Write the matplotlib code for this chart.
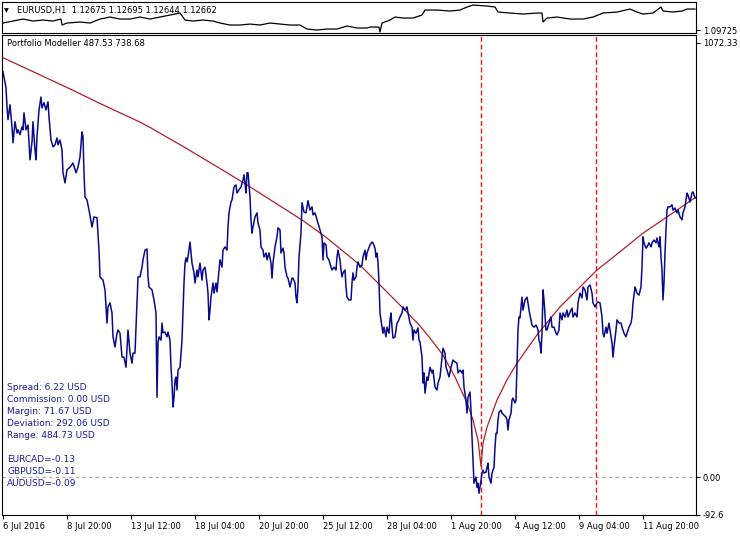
import matplotlib
matplotlib.use('Agg')

import matplotlib.pyplot as plt
import numpy             as np


save_name = 'out.png'
fig_w     = 740
fig_h     = 536
font_size = 6.5
num_size  = 6.0

navy     = '#0a0a8c'
curve_c  = '#b0202a'
event_c  = '#f01818'
zero_c   = '#a8a8a8'
text_c   = '#1a1aa0'

# H1 bars counted from 6 Jul 2016 00:00 (weekends skipped)
tick_bars   = [0, 64, 128, 192, 256, 320, 384, 448, 512, 576, 640]
tick_labels = ['6 Jul 2016', '8 Jul 20:00', '13 Jul 12:00', '18 Jul 04:00',
               '20 Jul 20:00', '25 Jul 12:00', '28 Jul 04:00', '1 Aug 20:00',
               '4 Aug 12:00', '9 Aug 04:00', '11 Aug 20:00']

# portfolio equity (USD)
equity_bars = [
    0, 2, 3, 4, 5, 7, 9, 10, 12, 14,
    15, 17, 19, 20, 21, 23, 25, 27, 29, 30,
    32, 33, 34, 36, 38, 39, 41, 43, 45, 46,
    48, 50, 52, 54, 55, 57, 59, 60, 62, 64,
    67, 70, 73, 75, 77, 79, 80, 81, 82, 84,
    86, 89, 91, 94, 96, 97, 100, 102, 104, 105,
    107, 109, 110, 112, 114, 115, 117, 119, 121, 123,
    125, 127, 129, 130, 132, 134, 135,
    137, 139, 140, 142, 144, 145, 146, 149, 151, 153,
    154, 155, 156, 158, 159, 160, 162, 164, 165, 167,
    168, 169, 170, 171, 172, 173, 174, 175, 177, 179,
    180, 181, 182, 183, 184, 185, 187, 188, 189, 191,
    192, 194, 195, 197, 199, 200, 202, 204, 205, 206,
    207, 208, 210, 211, 213, 214, 216, 217, 219, 220,
    222, 224, 225, 226, 228, 229, 231, 233, 234, 236,
    238, 240, 241, 242, 243, 244, 245, 247, 248, 249,
    250, 252, 254, 255, 257, 258, 260, 261, 263, 264,
    266, 268, 269, 270, 272, 274, 275,
    277, 278, 280, 281, 282, 284, 285, 287, 289, 290,
    292, 293, 294, 295, 296, 298, 299, 301, 303, 304,
    305, 307, 309, 310, 312, 314, 315, 317, 319, 320,
    321, 323, 324, 326, 328, 329, 331, 333, 334, 335,
    337, 338, 339, 340, 342, 343, 344, 346, 348, 349,
    350, 351, 353, 354, 355, 357, 359, 360, 362, 363,
    364, 365, 367, 369, 370, 372, 373, 374, 375, 376,
    377, 379, 380, 381, 383, 384, 386, 387, 388, 389,
    390, 392, 394, 395, 397, 399, 400, 402, 404, 405,
    407, 409, 410, 411, 413, 415, 416,
    417, 419, 420, 421, 422, 424, 425, 427, 429, 430,
    432, 434, 435, 437, 439, 440, 442, 443, 444, 446,
    448, 450, 452, 454, 455, 457, 459, 460, 461, 463,
    464, 465, 467, 468, 469, 470, 471, 473, 474, 475,
    476, 478, 479, 480, 481, 483, 484, 485, 486, 488,
    489, 490, 491, 492, 493, 494, 495, 496, 498, 499,
    501, 503, 504, 505, 506, 508, 509, 510, 512, 513,
    514, 515, 516, 517, 518, 519, 520, 522, 524, 525,
    526, 528, 529, 531, 533, 534, 535, 536, 537, 538,
    539, 540, 541, 543, 544, 546, 548, 549, 551, 553,
    554, 556,
    557, 559, 560, 562, 564, 565, 567, 569, 570, 572,
    574, 575, 577, 579, 580, 582, 584, 585, 587, 589,
    590, 592, 594, 595, 597, 599, 600, 601, 603, 604,
    606, 607, 609, 610, 611, 613, 614, 616, 618, 619,
    621, 623, 624, 626, 628, 629, 630, 632, 633, 634,
    636, 638, 639, 640, 641, 643, 644, 646, 648, 649,
    651, 653, 654, 656, 657, 658, 659, 660, 661, 662,
    663, 664, 665, 667, 669, 670, 672, 674, 675, 677,
    679, 680, 682, 684, 685, 687, 689, 690, 692, 693]

equity_usd = [
    1001, 974, 962, 915, 883, 920, 865, 826, 878, 850,
    858, 846, 865, 858, 900, 858, 870, 784, 828, 878,
    808, 784, 841, 907, 939, 912, 925, 907, 927, 890,
    833, 816, 821, 838, 821, 833, 808, 752, 727, 759,
    766, 776, 752, 766, 791, 853, 841, 752, 692, 685,
    660, 618, 643, 641, 561, 495, 487, 463, 381, 421,
    431, 406, 347, 322, 356, 364, 356, 297, 297, 272,
    364, 307, 282, 307, 307, 431, 495,
    495, 519, 537, 561, 564, 495, 470, 463, 438, 406,
    198, 332, 347, 339, 381, 357, 359, 347, 359, 339,
    272, 233, 174, 198, 240, 248, 216, 265, 272, 339,
    406, 480, 529, 542, 532, 544, 581, 554, 529, 505,
    480, 512, 495, 529, 487, 512, 519, 480, 455, 389,
    413, 445, 480, 455, 480, 458, 512, 537, 519, 561,
    569, 561, 618, 653, 680, 685, 717, 722, 702, 710,
    717, 734, 747, 727, 702, 752, 752, 692, 636, 603,
    618, 643, 653, 628, 611, 569, 561, 544, 554, 537,
    554, 529, 492, 529, 569, 594, 616,
    611, 554, 566, 554, 519, 495, 492, 470, 492, 492,
    480, 445, 431, 470, 544, 603, 678, 655, 653, 668,
    683, 660, 668, 648, 653, 636, 628, 611, 594, 537,
    579, 574, 544, 537, 519, 512, 519, 512, 544, 561,
    537, 512, 495, 505, 512, 470, 445, 438, 438, 480,
    505, 487, 495, 519, 532, 519, 524, 544, 561, 537,
    554, 561, 574, 581, 579, 566, 544, 554, 532, 480,
    406, 371, 356, 371, 347, 371, 356, 389, 406, 371,
    344, 347, 381, 384, 396, 406, 421, 413, 421, 406,
    381, 371, 339, 364, 356, 369, 339,
    334, 297, 233, 258, 208, 248, 240, 272, 258, 265,
    223, 216, 233, 248, 297, 319, 307, 272, 265, 248,
    272, 290, 285, 282, 258, 265, 258, 265, 223, 191,
    159, 198, 211, 166, 100, 43, -14, 1, -24, -14,
    -39, -7, 11, 18, 11, 13, 25, 35, 1, -14,
    11, 18, 25, 75, 109, 109, 142, 161, 166, 159,
    154, 149, 142, 117, 142, 159, 191, 196, 184, 191,
    282, 364, 396, 394, 421, 445, 413, 438, 445, 431,
    413, 389, 376, 371, 376, 371, 364, 339, 332, 307,
    356, 463, 438, 364, 364, 381, 396, 371, 371, 356,
    352, 364,
    406, 389, 406, 396, 413, 396, 408, 418, 396, 406,
    396, 431, 455, 443, 470, 463, 438, 470, 475, 455,
    431, 421, 431, 433, 431, 396, 356, 347, 371, 356,
    381, 364, 332, 297, 322, 364, 389, 381, 381, 371,
    356, 347, 356, 371, 381, 396, 431, 470, 463, 455,
    450, 470, 519, 594, 579, 566, 569, 579, 569, 579,
    586, 579, 591, 569, 594, 544, 512, 438, 480, 554,
    611, 660, 668, 668, 673, 660, 665, 653, 660, 643,
    636, 653, 668, 702, 697, 680, 702, 705, 690, 690]

# fitted model curve (USD)
model_bars = [0, 67, 97, 137, 147, 180, 214, 244, 277, 300, 324, 357, 377,
              400, 417, 427, 440, 452, 464, 470, 475, 478, 480, 484, 494,
              504, 514, 534, 557, 594, 617, 640, 664, 693]
model_usd  = [1036, 959, 923, 877, 864, 817, 767, 722, 670, 634, 591, 524,
              475, 418, 374, 344, 302, 248, 184, 142, 92, 28, 85, 124, 191,
              241, 282, 352, 421, 512, 557, 603, 643, 692]

# EURUSD H1 close, top window
price_bars = [0, 10, 20, 30, 40, 50, 58, 59, 64, 77, 87, 97, 107, 117, 127,
              137, 147, 157, 167, 177, 182, 190, 200, 210, 217, 227, 237,
              247, 257, 267, 277, 287, 297, 304, 314, 324, 334, 344, 354,
              364, 367, 376, 377, 379, 387, 392, 400, 410, 419, 422, 434,
              447, 457, 464, 470, 484, 492, 495, 507, 520, 534, 539, 540,
              544, 554, 567, 580, 590, 600, 614, 627, 634, 640, 650, 658,
              660, 670, 679, 684, 692]
price      = [1.1070, 1.1098, 1.1126, 1.1098, 1.1112, 1.1098, 1.1126, 1.1042,
              1.1070, 1.1084, 1.1070, 1.1126, 1.1154, 1.1126, 1.1126, 1.1154,
              1.1126, 1.1154, 1.1182, 1.1210, 1.1112, 1.1098, 1.1112, 1.1098,
              1.1070, 1.1042, 1.1042, 1.1056, 1.1042, 1.1070, 1.1056, 1.1042,
              1.1042, 1.0986, 1.0972, 1.0986, 1.0986, 1.1028, 1.1000, 1.1000,
              1.1014, 1.1014, 1.0944, 1.1070, 1.1112, 1.1154, 1.1140, 1.1140,
              1.1182, 1.1252, 1.1252, 1.1238, 1.1252, 1.1294, 1.1322, 1.1308,
              1.1294, 1.1224, 1.1210, 1.1196, 1.1210, 1.1210, 1.1084, 1.1140,
              1.1154, 1.1126, 1.1126, 1.1154, 1.1210, 1.1224, 1.1266, 1.1224,
              1.1196, 1.1210, 1.1294, 1.1238, 1.1224, 1.1238, 1.1266, 1.1266]

event_bars = [478.5, 593.5]

header = 'EURUSD,H1  1.12675 1.12695 1.12644 1.12662'
title  = 'Portfolio Modeller 487.53 738.68'
stats  = ['Spread: 6.22 USD', 'Commission: 0.00 USD', 'Margin: 71.67 USD',
          'Deviation: 292.06 USD', 'Range: 484.73 USD']
pairs  = ['EURCAD=-0.13', 'GBPUSD=-0.11', 'AUDUSD=-0.09']


def px_axes(fig, left, top, right, bottom):
    """Axes placed with pixel edges of the screenshot"""

    return fig.add_axes([left / fig_w, 1 - bottom / fig_h,
                         (right - left) / fig_w, (bottom - top) / fig_h])


def px_text(fig, x, y, s, size=font_size, **kw):
    """Text placed at pixel position (left, vertical centre)"""

    fig.text(x / fig_w, 1 - y / fig_h, s, va='center', ha='left',
             fontsize=size, **kw)


plt.rcParams['font.family'] = ['DejaVu Sans']

fig = plt.figure(figsize=[fig_w / 100, fig_h / 100], dpi=100)
fig.patch.set_facecolor('white')

# top window: symbol price
price_ax = px_axes(fig, 2, 2, 696, 33)
price_ax.plot(price_bars, price, color='black', lw=0.9)
price_ax.set_xlim(-1, 693)
price_ax.set_ylim(1.09305, 1.13645)
price_ax.set_xticks([])
price_ax.yaxis.tick_right()
price_ax.set_yticks([1.09725])
price_ax.set_yticklabels(['1.09725'])

# main window: portfolio
ax = px_axes(fig, 2, 35, 696, 515)
ax.axhline(0, color=zero_c, lw=0.8, ls=(0, (3, 3)))
for bar in event_bars:
    ax.axvline(bar, color=event_c, lw=1.0, ls=(0, (3.5, 2)))
ax.plot(model_bars, model_usd, color=curve_c, lw=0.9)
ax.plot(equity_bars, equity_usd, color=navy, lw=1.1)

ax.set_xlim(-1, 693)
ax.set_ylim(-92.6, 1092)
ax.yaxis.tick_right()
ax.set_yticks([1072.33, 0, -92.6])
ax.set_yticklabels(['1072.33', '0.00', '-92.6'])
ax.set_xticks(tick_bars)
ax.set_xticklabels(tick_labels)
for label in ax.get_xticklabels():
    label.set_horizontalalignment('left')

for a in (price_ax, ax):
    for spine in a.spines.values():
        spine.set_color('black')
        spine.set_linewidth(0.8)
    a.tick_params(direction='out', length=3, width=0.8, pad=2,
                  labelsize=num_size, colors='black')

px_text(fig, 4, 10.5, '\u25bc', size=4.5)
px_text(fig, 17, 10.5, header, size=num_size)
px_text(fig, 7, 44, title, size=num_size)

for i, line in enumerate(stats):
    px_text(fig, 7, 387 + 12 * i, line, color=text_c)
for i, line in enumerate(pairs):
    px_text(fig, 7, 459 + 12 * i, line, color=text_c)

fig.savefig(save_name, dpi=100, facecolor='white')
